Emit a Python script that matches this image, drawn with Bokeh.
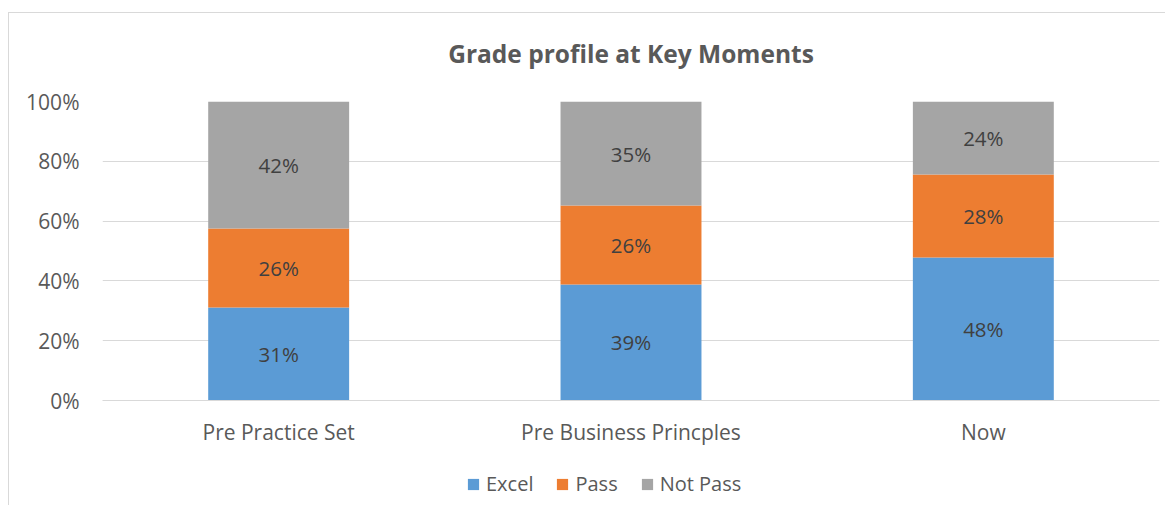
from bokeh.plotting import figure
from bokeh.layouts import column
from bokeh.models import FactorRange, Range1d, ColumnDataSource, Legend, LegendItem, NumeralTickFormatter, FixedTicker
from bokeh.core.properties import value
from bokeh.embed import file_html
from bokeh.resources import INLINE

categories = ["Pre Practice Set", "Pre Business Princples", "Now"]
excel = [31.1, 38.8, 47.8]
pass_ = [26.4, 26.4, 27.8]
not_pass = [42.5, 34.8, 24.4]
series_names = ["Excel", "Pass", "Not Pass"]
colors = ["#5b9bd5", "#ed7d31", "#a5a5a5"]
title_text = "Grade profile at Key Moments"

FONT = "Open Sans"
TXT = "#595959"

series = [excel, pass_, not_pass]
totals = [sum(v) for v in zip(*series)]
fracs = [[v / t for v, t in zip(s, totals)] for s in series]

bg = ("linear-gradient(#d9d9d9,#d9d9d9) 8px 12px / 1px 100% no-repeat, "
      "linear-gradient(#d9d9d9,#d9d9d9) 8px 12px / 100% 1px no-repeat, white")

p = figure(x_range=FactorRange(*categories), y_range=Range1d(0, 1),
           width=1165, height=460, output_backend="svg", toolbar_location=None,
           min_border_left=102, min_border_right=6, min_border_top=101, min_border_bottom=60)
p.background_fill_color = "white"
p.border_fill_alpha = 0
p.outline_line_color = None

bottoms = [0.0] * len(categories)
for name, fr, col in zip(series_names, fracs, colors):
    tops = [b + f for b, f in zip(bottoms, fr)]
    src = ColumnDataSource(dict(x=categories, bottom=bottoms, top=tops,
                                mid=[(b + t) / 2 for b, t in zip(bottoms, tops)],
                                lab=["%d%%" % round(f * 100) for f in fr]))
    p.vbar(x="x", bottom="bottom", top="top", width=0.4, fill_color=col, line_color=None, source=src)
    p.text(x="x", y="mid", text="lab", source=src, text_align="center", text_baseline="middle",
           text_font=value(FONT), text_font_size="20.5px", text_color="#404040")
    bottoms = tops

p.title.text = title_text
p.title.align = "center"
p.title.text_font = FONT
p.title.text_font_size = "24.5px"
p.title.text_font_style = "bold"
p.title.text_color = TXT
p.title.standoff = 63

p.xgrid.grid_line_color = None
p.ygrid.grid_line_color = "#d9d9d9"
p.ygrid.grid_line_width = 1
p.yaxis.ticker = FixedTicker(ticks=[0, 0.2, 0.4, 0.6, 0.8, 1.0])
p.yaxis.formatter = NumeralTickFormatter(format="0%")
p.yaxis.axis_line_color = None
p.yaxis.major_tick_line_color = None
p.yaxis.minor_tick_line_color = None
p.yaxis.major_label_text_font = FONT
p.yaxis.major_label_text_font_size = "21px"
p.yaxis.major_label_text_color = TXT
p.yaxis.major_label_standoff = 17

p.xaxis.axis_line_color = "#d9d9d9"
p.xaxis.major_tick_line_color = None
p.xaxis.minor_tick_line_color = None
p.xaxis.major_label_text_font = FONT
p.xaxis.major_label_text_font_size = "21px"
p.xaxis.major_label_text_color = TXT
p.xaxis.major_label_standoff = 11

# legend in its own strip below the chart
lg = figure(width=1165, height=45, output_backend="svg", toolbar_location=None,
            x_range=Range1d(0, 1), y_range=Range1d(0, 1),
            min_border_left=0, min_border_right=0, min_border_top=0, min_border_bottom=0)
lg.axis.visible = False
lg.grid.visible = False
lg.outline_line_color = None
lg.background_fill_alpha = 0
lg.border_fill_alpha = 0
items = []
for name, col in zip(series_names, colors):
    r = lg.vbar(x=[-10], bottom=[-11], top=[-10], width=0.1, fill_color=col, line_color=None)
    items.append(LegendItem(label=name, renderers=[r]))
legend = Legend(items=items, orientation="horizontal", location=(364, 8),
                label_text_font=FONT, label_text_font_size="20px", label_text_color=TXT,
                glyph_width=14, glyph_height=14, spacing=22, label_standoff=6,
                border_line_color=None, background_fill_alpha=0, padding=0, margin=0)
lg.add_layout(legend, "center")

layout = column(p, lg, spacing=0, styles={"background": bg})
open("out.html", "w").write(file_html(layout, INLINE))
